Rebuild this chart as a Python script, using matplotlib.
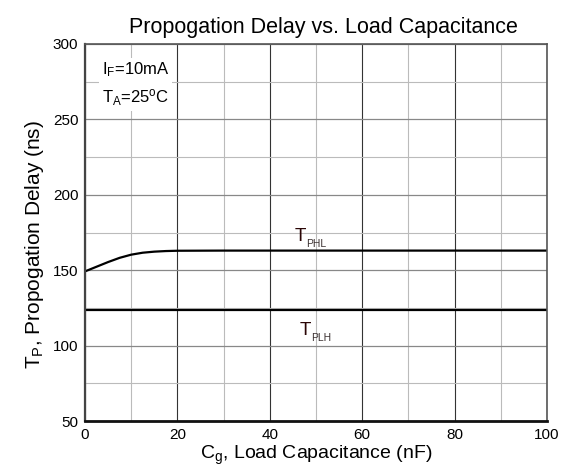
import matplotlib
matplotlib.use("Agg")
import matplotlib.pyplot as plt
import numpy as np

plt.rcParams['font.family'] = ['Liberation Sans', 'DejaVu Sans']
plt.rcParams['mathtext.fontset'] = 'custom'
plt.rcParams['mathtext.rm'] = 'Liberation Sans'
plt.rcParams['mathtext.it'] = 'Liberation Sans'

# Data
cap_phl = [0, 2.5, 5, 7.5, 10, 12.5, 15, 17.5, 20, 30, 40, 60, 80, 100]
tphl = [149.2, 152.3, 155.4, 158.2, 160.3, 161.6, 162.3, 162.7, 162.9, 163.0, 163.0, 163.0, 163.0, 163.0]
cap_plh = [0, 20, 40, 60, 80, 100]
tplh = [123.6, 123.6, 123.6, 123.6, 123.6, 123.6]
xticks = [0, 20, 40, 60, 80, 100]
yticks = [50, 100, 150, 200, 250, 300]

fig = plt.figure(figsize=(5.68, 4.68), dpi=100)
ax = fig.add_axes([0.1496, 0.1004, 0.8134, 0.8056])

ax.set_xlim(0, 100)
ax.set_ylim(50, 300)
ax.set_xticks(xticks)
ax.set_yticks(yticks)
ax.set_xticks(np.arange(10, 100, 20), minor=True)
ax.set_yticks(np.arange(75, 300, 50), minor=True)
ax.grid(which='major', axis='x', color='#333333', lw=0.8)
ax.grid(which='major', axis='y', color='#888888', lw=0.9)
ax.grid(which='minor', color='#bbbbbb', lw=0.8)
ax.set_axisbelow(True)
ax.tick_params(which='both', length=0, labelsize=11)
ax.tick_params(axis='x', pad=5)
ax.tick_params(axis='y', pad=4.8)

for s in ['top', 'right']:
    ax.spines[s].set_color('#555555')
    ax.spines[s].set_linewidth(1.2)
ax.spines['left'].set_color('#444444')
ax.spines['left'].set_linewidth(1.6)
ax.spines['bottom'].set_color('#111111')
ax.spines['bottom'].set_linewidth(2.0)

ax.plot(cap_phl, tphl, color='black', lw=1.6)
ax.plot(cap_plh, tplh, color='black', lw=1.6)

# curve labels: large T with small, low subscript
for xd, yd, sub in [(45.4, 169.6, 'PHL'), (46.5, 107.0, 'PLH')]:
    ax.text(xd, yd, 'T', fontsize=13.5, color='#2a0505', ha='left', va='baseline')
    ax.annotate(sub, (xd, yd), xytext=(8.2, -4.3), textcoords='offset points',
                fontsize=7.5, color='#3a3030', ha='left', va='baseline')

ax.text(3.6, 289, r'I$\mathregular{_F}$=10mA' + '\n' + r'T$\mathregular{_A}$=25$\mathregular{^o}$C',
        fontsize=12, ha='left', va='top', linespacing=1.55,
        bbox=dict(facecolor='white', edgecolor='none', pad=2))

ax.set_title('Propogation Delay vs. Load Capacitance', fontsize=15.5, pad=8, x=0.516)
ax.set_xlabel(r'C$\mathregular{_g}$, Load Capacitance (nF)', fontsize=14, labelpad=1.5)
ax.set_ylabel(r'T$\mathregular{_P}$, Propogation Delay (ns)', fontsize=15, labelpad=5)
ax.yaxis.label.set_y(0.468)

fig.savefig('out.png', dpi=100)
